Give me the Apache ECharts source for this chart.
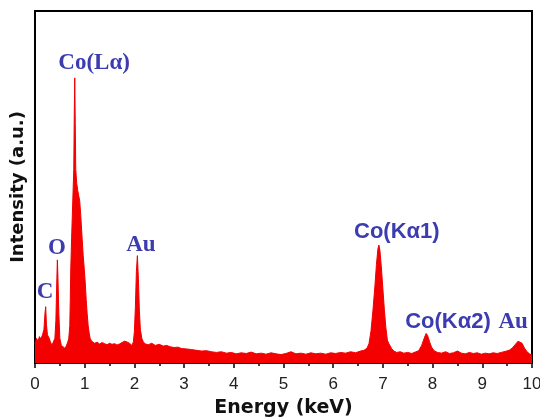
<!DOCTYPE html>
<html>
<head>
<meta charset="utf-8">
<script src="https://cdn.jsdelivr.net/npm/echarts@6/dist/echarts.min.js"></script>
<style>html,body{margin:0;padding:0;background:#fff}#c{width:540px;height:419px}</style>
</head>
<body>
<div id="c"></div>
<script>
// Energy (keV) and intensity (a.u., 0-100 scale)
var energy = [
 0.00,0.03,0.06,0.09,0.12,0.15,0.18,0.20,0.215,0.23,0.25,0.28,0.31,0.34,0.37,0.40,0.42,0.44,0.45,0.46,0.48,0.50,0.53,0.56,0.60,0.63,0.66,
 0.68,0.70,0.71,0.72,0.74,0.76,0.78,0.79,0.80,0.81,0.82,0.84,0.86,0.88,0.90,0.92,0.95,0.97,0.99,1.01,1.03,1.05,1.07,1.09,1.11,1.14,
 1.20,1.25,1.30,1.35,1.40,1.45,1.50,1.55,1.60,1.65,1.70,1.75,1.80,1.85,1.90,1.95,1.98,2.00,2.02,2.04,2.06,2.08,2.10,2.12,2.15,2.18,
 2.22,2.28,2.35,2.42,2.50,2.58,2.65,2.72,2.80,2.88,2.95,3.05,3.15,3.25,3.35,3.45,3.55,3.65,3.75,3.85,3.95,4.05,4.15,4.25,4.35,4.45,
 4.55,4.65,4.75,4.85,4.95,5.05,5.15,5.25,5.35,5.45,5.55,5.65,5.75,5.85,5.95,6.05,6.15,6.25,6.35,6.45,6.55,6.62,6.68,6.72,6.76,6.80,
 6.84,6.87,6.90,6.92,6.94,6.97,7.00,7.03,7.06,7.09,7.12,7.15,7.18,7.22,7.28,7.35,7.42,7.50,7.58,7.65,7.72,7.78,7.83,7.87,7.90,7.94,
 7.98,8.03,8.10,8.18,8.26,8.34,8.42,8.50,8.58,8.66,8.74,8.82,8.90,8.98,9.06,9.14,9.22,9.30,9.38,9.46,9.54,9.60,9.66,9.72,9.76,9.80,
 9.85,9.90,9.95,10.00
];
var intensity = [
 5.5,7.0,6.2,7.5,6.8,8.0,9.5,14.0,16.0,11.0,8.0,7.2,6.0,5.0,5.5,7.0,12.0,24.0,29.3,25.0,14.0,7.0,5.0,4.5,4.2,4.8,6.0,
 7.0,10.6,18.0,27.0,37.0,46.0,55.0,70.0,81.0,68.0,55.0,51.0,49.0,47.5,46.0,42.0,35.0,30.5,27.0,23.0,18.0,14.0,10.6,8.5,7.0,6.2,
 5.6,5.9,5.4,5.8,5.5,5.2,5.6,5.3,5.5,5.1,5.4,5.8,6.2,6.0,5.6,5.0,6.0,9.0,16.0,26.0,30.5,24.0,15.0,9.5,7.0,6.0,
 5.4,5.2,5.6,5.0,5.3,4.8,5.0,4.6,4.4,4.5,4.1,4.0,3.8,3.6,3.4,3.5,3.2,3.0,3.2,2.8,3.0,2.6,2.9,2.7,3.1,2.6,
 2.8,2.5,2.9,2.6,2.4,2.7,3.2,2.6,2.8,2.5,2.9,2.6,2.8,2.5,2.9,2.7,3.0,2.8,3.2,2.9,3.4,3.6,4.2,5.5,9.0,15.0,
 22.0,28.0,32.5,33.5,32.0,27.0,21.0,15.0,10.0,6.5,5.5,5.0,4.0,3.4,3.0,3.2,2.8,3.0,2.7,3.1,3.5,5.0,7.0,8.4,7.8,6.0,
 4.5,3.5,3.0,2.8,3.2,2.7,2.9,3.4,2.8,2.6,3.0,2.7,2.9,2.5,2.8,2.6,2.9,2.7,3.0,3.3,3.6,4.2,5.2,6.2,6.5,5.6,
 4.2,3.2,2.6,2.2
];
// Peak annotations
var peakLabels = ['C', 'O', 'Co(L\u03b1)', 'Au', 'Co(K\u03b11)', 'Co(K\u03b12)', 'Au'];
var peakLabelEnergy = [0.20, 0.44, 1.19, 2.13, 7.28, 8.31, 9.62];
var peakLabelIntensity = [20.2, 32.7, 85.2, 33.5, 37.2, 11.6, 11.6];
var peakLabelSans = [false, false, false, false, true, true, false];
var xTicks = [0,1,2,3,4,5,6,7,8,9,10];

var spectrum = energy.map(function (e, i) { return [e, intensity[i]]; });
var labelData = peakLabels.map(function (t, i) {
  return {
    value: [peakLabelEnergy[i], peakLabelIntensity[i]],
    name: t,
    label: peakLabelSans[i]
      ? { fontFamily: 'Liberation Sans', fontSize: 22, fontWeight: 'bold' }
      : { fontFamily: 'Liberation Serif', fontSize: 23, fontWeight: 'bold' }
  };
});

var chart = echarts.init(document.getElementById('c'), null, { renderer: 'canvas' });
chart.setOption({
  animation: false,
  backgroundColor: '#fff',
  grid: { left: 35, right: 8, top: 11, bottom: 56, containLabel: false, outerBoundsMode: 'none',
          show: true, borderColor: '#000', borderWidth: 2, backgroundColor: 'transparent' },
  xAxis: {
    type: 'value', min: xTicks[0], max: xTicks[xTicks.length - 1], interval: 1,
    name: 'Energy (keV)', nameLocation: 'middle', nameGap: 36,
    nameTextStyle: { fontFamily: 'DejaVu Sans', fontWeight: 'bold', fontSize: 19, color: '#111' },
    axisLine: { lineStyle: { color: '#000', width: 2 } },
    axisTick: { show: true, inside: false, length: 5, lineStyle: { color: '#000', width: 1.5 } },
    minorTick: { show: true, splitNumber: 2, length: 3, lineStyle: { color: '#000', width: 1.5 } },
    axisLabel: { fontFamily: 'Liberation Sans', fontSize: 17, color: '#222', margin: 13, showMaxLabel: true, hideOverlap: false },
    splitLine: { show: false }
  },
  yAxis: {
    type: 'value', min: 0, max: 100,
    name: 'Intensity (a.u.)', nameLocation: 'middle', nameGap: 8, nameRotate: 90,
    nameTextStyle: { fontFamily: 'DejaVu Sans', fontWeight: 'bold', fontSize: 18, color: '#111' },
    axisLine: { show: true, lineStyle: { color: '#000', width: 2 } },
    axisTick: { show: false },
    axisLabel: { show: false },
    splitLine: { show: false }
  },
  series: [
    {
      type: 'line', data: spectrum, symbol: 'none', smooth: false,
      lineStyle: { color: '#f20000', width: 1 },
      areaStyle: { color: '#f50000', opacity: 1, origin: 'start' },
      silent: true, z: 2
    },
    {
      type: 'scatter', data: labelData, symbol: 'circle', symbolSize: 1,
      itemStyle: { color: 'rgba(0,0,0,0)', opacity: 1 },
      label: { show: true, position: 'inside', formatter: '{b}', color: '#3c3cb0', opacity: 1 },
      silent: true, z: 5
    }
  ]
});
</script>
</body>
</html>
